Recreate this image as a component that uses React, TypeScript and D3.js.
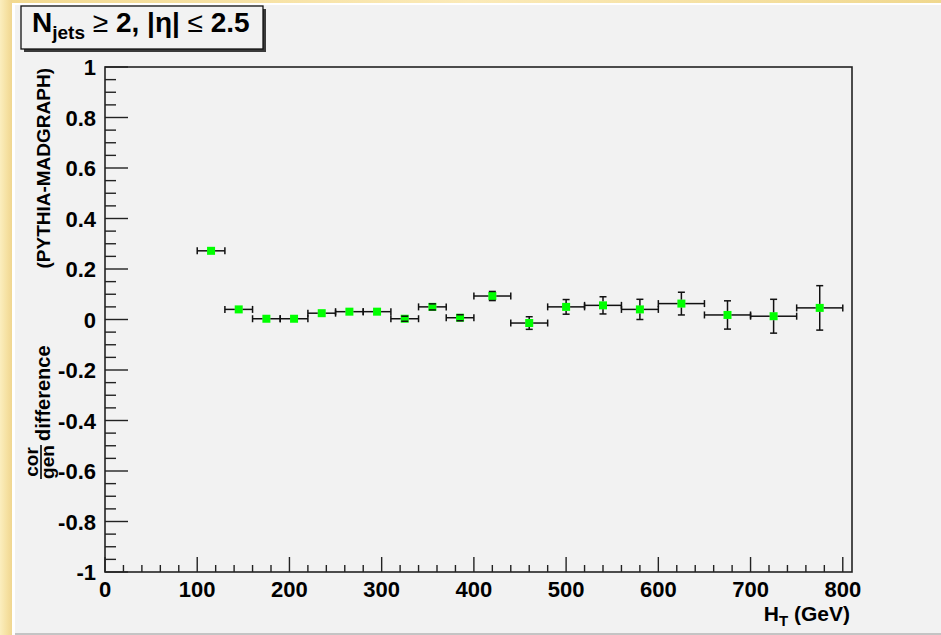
import React from "react";
import * as d3 from "d3";

const xCenters = [115, 145, 175, 205, 235, 265, 295, 325, 355, 385, 420, 460, 500, 540, 580, 625, 675, 725, 775];
const xLow = [100, 130, 160, 190, 220, 250, 280, 310, 340, 370, 400, 440, 480, 520, 560, 600, 650, 700, 750];
const xHigh = [130, 160, 190, 220, 250, 280, 310, 340, 370, 400, 440, 480, 520, 560, 600, 650, 700, 750, 800];
const yVals = [0.272, 0.040, 0.003, 0.003, 0.025, 0.031, 0.031, 0.003, 0.050, 0.007, 0.093, -0.014, 0.050, 0.056, 0.040, 0.063, 0.018, 0.013, 0.046];
const yErrs = [0.002, 0.002, 0.002, 0.002, 0.002, 0.002, 0.002, 0.010, 0.012, 0.012, 0.018, 0.025, 0.029, 0.034, 0.040, 0.045, 0.056, 0.067, 0.088];

const yTickLabels = ["-1", "-0.8", "-0.6", "-0.4", "-0.2", "0", "0.2", "0.4", "0.6", "0.8", "1"];
const xTickLabels = ["0", "100", "200", "300", "400", "500", "600", "700", "800"];

const W = 941;
const H = 635;
const FONT = "'Liberation Sans', Arial, Helvetica, sans-serif";

export default function App() {
  const x = d3.scaleLinear().domain([0, 810]).range([105, 852]);
  const y = d3.scaleLinear().domain([-1, 1]).range([572, 67]);

  const yMinor = d3.range(-1, 1.0001, 0.05);
  const xMinor = d3.range(0, 810, 20);

  const half = 4;
  const cap = 3.5;

  return (
    <svg
      width={W}
      height={H}
      style={{ position: "absolute", left: 0, top: 0, display: "block" }}
      fontFamily={FONT}
    >
      <defs>
        <linearGradient id="beige" x1="0" y1="0" x2="1" y2="0">
          <stop offset="0" stopColor="#f2d98f" />
          <stop offset="0.5" stopColor="#fbeab8" />
          <stop offset="1" stopColor="#f0d88f" />
        </linearGradient>
        <linearGradient id="beigeL" x1="0" y1="0" x2="1" y2="0">
          <stop offset="0" stopColor="#fbeebe" />
          <stop offset="0.6" stopColor="#f5e0a0" />
          <stop offset="1" stopColor="#f0d690" />
        </linearGradient>
      </defs>
      <rect x={0} y={0} width={W} height={H} fill="url(#beige)" />
      <rect x={0} y={0} width={12} height={H} fill="url(#beigeL)" />
      <rect x={12} y={3} width={W - 12} height={H - 3} fill="#ffffff" />
      <rect x={15} y={5} width={W - 15} height={628} fill="#f2f2f2" />
      <rect x={15} y={633} width={W - 15} height={2} fill="#c4c4c4" />

      {/* Title box */}
      <rect x={24} y={9} width={242} height={43} fill="#3a3a3a" />
      <rect x={21} y={6} width={242} height={43} fill="#f2f2f2" stroke="#111" strokeWidth={1.3} />
      <text x={32} y={32} fontSize={28} fontWeight="bold" fill="#000">
        N
        <tspan fontSize={19} dy={7}>jets</tspan>
        <tspan dy={-7} fontWeight="normal"> ≥ </tspan>
        <tspan>2, |η| </tspan>
        <tspan fontWeight="normal">≤ </tspan>
        <tspan>2.5</tspan>
      </text>

      {/* Plot frame */}
      <rect x={105} y={67} width={747} height={505} fill="none" stroke="#222" strokeWidth={1.6} />

      {/* Y ticks */}
      {yMinor.map((v, i) => {
        const major = i % 4 === 0;
        return (
          <line
            key={"ym" + i}
            x1={105}
            x2={105 + (major ? 23 : 11)}
            y1={y(v)}
            y2={y(v)}
            stroke="#222"
            strokeWidth={1.4}
          />
        );
      })}
      {yTickLabels.map((t) => (
        <text
          key={"yl" + t}
          x={96}
          y={y(+t) + 8}
          fontSize={22}
          fontWeight="bold"
          textAnchor="end"
          fill="#000"
        >
          {t}
        </text>
      ))}

      {/* X ticks */}
      {xMinor.map((v, i) => {
        const major = i % 5 === 0;
        return (
          <line
            key={"xm" + i}
            x1={x(v)}
            x2={x(v)}
            y1={572}
            y2={572 - (major ? 15 : 7)}
            stroke="#222"
            strokeWidth={1.4}
          />
        );
      })}
      {xTickLabels.map((t) => (
        <text
          key={"xl" + t}
          x={x(+t)}
          y={597}
          fontSize={22}
          fontWeight="bold"
          textAnchor="middle"
          fill="#000"
        >
          {t}
        </text>
      ))}

      {/* X title */}
      <text x={850} y={621} fontSize={21} fontWeight="bold" textAnchor="end" fill="#000">
        H<tspan fontSize={15} dy={5}>T</tspan>
        <tspan dy={-5}> (GeV)</tspan>
      </text>

      {/* Y title (rotated) */}
      <g transform="rotate(-90)" fontWeight="bold" fill="#000">
        <text x={-462} y={38} fontSize={19} textAnchor="middle">cor</text>
        <line x1={-479} x2={-445} y1={41} y2={41} stroke="#000" strokeWidth={1.6} />
        <text x={-462} y={54} fontSize={19} textAnchor="middle">gen</text>
        <text x={-441} y={50} fontSize={20} textAnchor="start">difference</text>
        <text x={-68} y={50} fontSize={19} textAnchor="end">(PYTHIA-MADGRAPH)</text>
      </g>

      {/* Data */}
      {yVals.map((v, i) => {
        const cx = x(xCenters[i]);
        const cy = y(v);
        const xl = x(xLow[i]);
        const xh = x(xHigh[i]);
        const yt = y(v + yErrs[i]);
        const yb = y(v - yErrs[i]);
        const showV = cy - yt > 1.5;
        return (
          <g key={"p" + i}>
            <rect x={cx - half} y={cy - half} width={half * 2} height={half * 2} fill="#00ff00" />
            <line x1={xl} x2={cx - half} y1={cy} y2={cy} stroke="#111" strokeWidth={1.5} />
            <line x1={cx + half} x2={xh} y1={cy} y2={cy} stroke="#111" strokeWidth={1.5} />
            <line x1={xl} x2={xl} y1={cy - cap} y2={cy + cap} stroke="#111" strokeWidth={1.5} />
            <line x1={xh} x2={xh} y1={cy - cap} y2={cy + cap} stroke="#111" strokeWidth={1.5} />
            {showV && (
              <g>
                {yt < cy - half && (
                  <line x1={cx} x2={cx} y1={yt} y2={cy - half} stroke="#111" strokeWidth={1.5} />
                )}
                {yb > cy + half && (
                  <line x1={cx} x2={cx} y1={cy + half} y2={yb} stroke="#111" strokeWidth={1.5} />
                )}
                <line x1={cx - cap} x2={cx + cap} y1={yt} y2={yt} stroke="#111" strokeWidth={1.5} />
                <line x1={cx - cap} x2={cx + cap} y1={yb} y2={yb} stroke="#111" strokeWidth={1.5} />
              </g>
            )}
          </g>
        );
      })}
    </svg>
  );
}
